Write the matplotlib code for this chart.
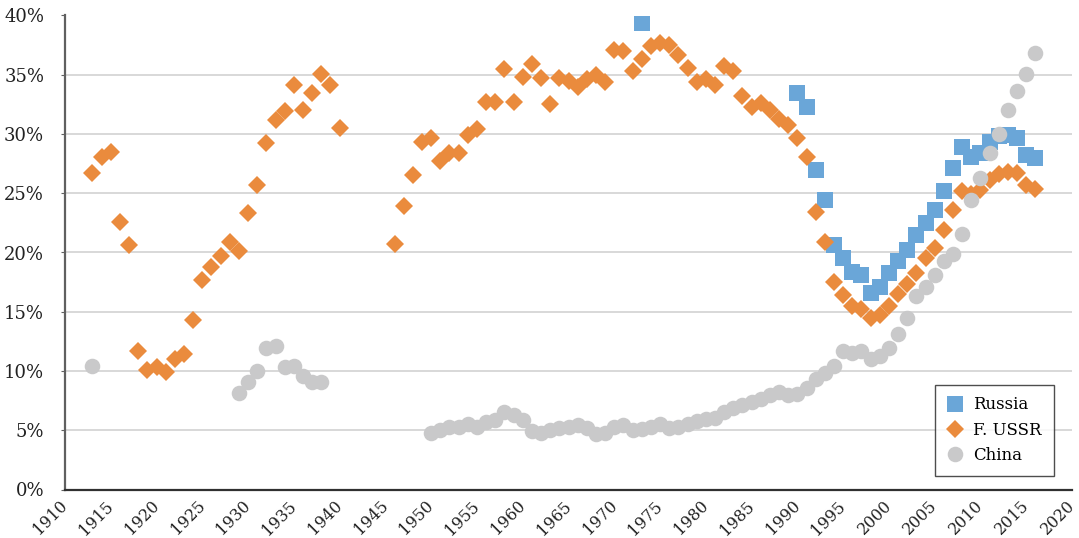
import matplotlib
matplotlib.use("Agg")
import matplotlib.pyplot as plt
from matplotlib.ticker import FuncFormatter

# ---------------- data ----------------
russia_years = [1973] + list(range(1990, 2017))
russia_vals = [39.4,
               33.5, 32.3, 27.0, 24.4, 20.6, 19.5, 18.35, 18.1, 16.6, 17.1,
               18.3, 19.3, 20.2, 21.5, 22.5, 23.55, 25.2, 27.1, 28.9, 28.05,
               28.4, 29.3, 29.8, 29.9, 29.65, 28.25, 27.95]

ussr_years = list(range(1913, 1941)) + list(range(1946, 2017))
ussr_vals = [26.7, 28.1, 28.5, 22.6, 20.6, 11.7, 10.1, 10.3, 9.9, 11.0,
             11.4, 14.3, 17.7, 18.8, 19.7, 20.85, 20.1, 23.3, 25.7, 29.2,
             31.2, 31.9, 34.1, 32.0, 33.5, 35.1, 34.1, 30.5,
             # 1946-
             20.7, 23.9, 26.5, 29.3, 29.7, 27.7, 28.4, 28.4, 29.9, 30.4,
             32.7, 32.7, 35.5, 32.7, 34.8, 35.9, 34.7, 32.5, 34.7, 34.5,
             34.0, 34.6, 35.0, 34.4, 37.1, 37.0, 35.3, 36.3, 37.4, 37.7,
             37.5, 36.7, 35.6, 34.4, 34.65, 34.1, 35.7, 35.3, 33.2, 32.3,
             32.6, 32.0, 31.3, 30.8, 29.7, 28.1, 23.4, 20.85, 17.5, 16.4,
             15.5, 15.2, 14.5, 14.75, 15.5, 16.5, 17.3, 18.3, 19.5, 20.4,
             21.9, 23.6, 25.15, 24.95, 25.3, 26.1, 26.6, 26.8, 26.75, 25.7,
             25.4]

china_years = [1913] + list(range(1929, 1939)) + list(range(1950, 2017))
china_vals = [10.4,
              8.15, 9.1, 10.0, 11.9, 12.1, 10.3, 10.4, 9.6, 9.05, 9.1,
              # 1950-
              4.74, 5.0, 5.3, 5.24, 5.5, 5.24, 5.72, 5.86, 6.56, 6.28,
              5.86, 4.93, 4.74, 5.0, 5.16, 5.3, 5.44, 5.16, 4.65, 4.74,
              5.3, 5.44, 5.02, 5.08, 5.24, 5.5, 5.16, 5.3, 5.52, 5.8,
              5.94, 6.0, 6.56, 6.85, 7.12, 7.4, 7.63, 7.97, 8.25, 7.97,
              8.1, 8.6, 9.3, 9.85, 10.4, 11.65, 11.5, 11.65, 11.05, 11.25,
              11.9, 13.1, 14.5, 16.3, 17.1, 18.1, 19.25, 19.9, 21.6, 24.45,
              26.3, 28.4, 30.0, 32.0, 33.6, 35.1, 36.8]

x_ticks = list(range(1910, 2021, 5))
x_tick_labels = [str(t) for t in x_ticks]
y_ticks = list(range(0, 41, 5))

# ---------------- style ----------------
plt.rcParams['font.family'] = ['DejaVu Serif']
c_russia = '#6aa6d8'
c_ussr = '#ea8b3d'
c_china = '#c9c9ca'

fig = plt.figure(figsize=(10.79, 5.38), dpi=100)
ax = fig.add_axes([65 / 1079, 48.5 / 538, 1007 / 1079, 474 / 538])

ax.plot(russia_years, russia_vals, linestyle='none', marker='s',
        markersize=11.2, color=c_russia, markeredgewidth=0, label='Russia', zorder=3)
ax.plot(ussr_years, ussr_vals, linestyle='none', marker='D',
        markersize=9.2, color=c_ussr, markeredgewidth=0, label='F. USSR', zorder=4)
ax.plot(china_years, china_vals, linestyle='none', marker='o',
        markersize=11.2, color=c_china, markeredgewidth=0, label='China', zorder=5)

ax.set_xlim(1910, 2020)
ax.set_ylim(0, 40)
ax.set_xticks(x_ticks, labels=x_tick_labels, rotation=45, ha='right',
              va='center', rotation_mode='anchor')
ax.set_yticks(y_ticks)
ax.yaxis.set_major_formatter(FuncFormatter(lambda v, p: f"{int(v)}%"))

ax.grid(axis='y', color='#d2d2d2', linewidth=1.2, zorder=0)
ax.set_axisbelow(True)

for s in ['top', 'right']:
    ax.spines[s].set_visible(False)
ax.spines['left'].set_color('#606060')
ax.spines['left'].set_linewidth(1.6)
ax.spines['bottom'].set_color('#303030')
ax.spines['bottom'].set_linewidth(1.6)

ax.tick_params(axis='y', length=3, color='#606060', pad=12, labelsize=13,
               labelcolor='#222222')
ax.tick_params(axis='x', length=0, pad=10, labelsize=11.5, labelcolor='#222222')

leg = ax.legend(loc='upper left', bbox_to_anchor=(0.864, 0.221),
                frameon=True, fancybox=False, edgecolor='#222222',
                fontsize=12, handlelength=1.0, handletextpad=0.6,
                borderpad=0.7, labelspacing=0.5, borderaxespad=0)
leg.get_frame().set_linewidth(1.0)

fig.savefig('out.png', dpi=100)
